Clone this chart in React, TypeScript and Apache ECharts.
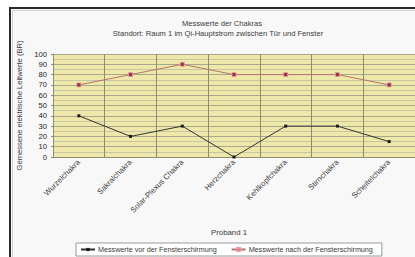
import React, { useEffect, useRef } from "react";
import * as echarts from "echarts";

const categories = [
  "Wurzelchakra",
  "Sakralchakra",
  "Solar-Plexus Chakra",
  "Herzchakra",
  "Kehlkopfchakra",
  "Stirnchakra",
  "Scheitelchakra",
];
const vorValues = [40, 20, 30, 0, 30, 30, 15];
const nachValues = [70, 80, 90, 80, 80, 80, 70];
const seriesNames = [
  "Messwerte vor der Fensterschirmung",
  "Messwerte nach der Fensterschirmung",
];
const titleLines = [
  "Messwerte der Chakras",
  "Standort: Raum 1 im Qi-Hauptstrom zwischen Tür und Fenster",
];
const yAxisTitle = "Gemessene elektrische Leitwerte (BR)";
const xAxisTitle = "Proband 1";

const FONT = "Liberation Sans, Arial, sans-serif";
const TXT = "#3a3a3a";

export default function App() {
  const ref = useRef<HTMLDivElement>(null);
  useEffect(() => {
    if (!ref.current) return;
    const chart = echarts.init(ref.current, undefined, { renderer: "svg" });
    chart.setOption({
      animation: false,
      backgroundColor: "#ffffff",
      textStyle: { fontFamily: FONT },
      graphic: [
        {
          type: "rect",
          z: -10,
          shape: { x: 10, y: 8, width: 420, height: 260 },
          style: { fill: "#f8f8f8", stroke: "none" },
        },
        {
          type: "rect",
          z: -9,
          shape: { x: 12.5, y: 10.5, width: 420, height: 260 },
          style: { fill: "none", stroke: "#d0d0d0", lineWidth: 1 },
        },
        {
          type: "line",
          shape: { x1: 9, y1: 8, x2: 415, y2: 8 },
          style: { stroke: "#2a2a2a", lineWidth: 2 },
        },
        {
          type: "line",
          shape: { x1: 10, y1: 7, x2: 10, y2: 257 },
          style: { stroke: "#2a2a2a", lineWidth: 2 },
        },
        {
          type: "text",
          x: 222,
          y: 23,
          style: {
            text: titleLines[0],
            fontSize: 7.6,
            fontFamily: FONT,
            fill: TXT,
            align: "center",
            verticalAlign: "middle",
          },
        },
        {
          type: "text",
          x: 218,
          y: 33,
          style: {
            text: titleLines[1],
            fontSize: 7.6,
            fontFamily: FONT,
            fill: TXT,
            align: "center",
            verticalAlign: "middle",
          },
        },
        {
          type: "text",
          x: 229,
          y: 232,
          style: {
            text: xAxisTitle,
            fontSize: 7.8,
            fontFamily: FONT,
            fill: TXT,
            align: "center",
            verticalAlign: "middle",
          },
        },
      ],
      grid: {
        left: 53,
        top: 54,
        width: 364,
        height: 103,
        show: true,
        backgroundColor: "#eee9ab",
        borderWidth: 0,
      },
      legend: {
        left: 76,
        top: 243,
        padding: [3, 9, 3, 4],
        itemGap: 14,
        itemWidth: 14,
        itemHeight: 4,
        backgroundColor: "#ffffff",
        borderColor: "#9a9a9a",
        borderWidth: 1,
        borderRadius: 0,
        textStyle: { fontSize: 7.2, color: TXT, fontFamily: FONT, padding: [0, 0, 0, -2] },
        data: seriesNames,
      },
      xAxis: {
        type: "category",
        data: categories,
        boundaryGap: true,
        axisLine: { show: true, lineStyle: { color: "#8c8c70", width: 1 } },
        axisTick: { show: false },
        splitLine: { show: true, lineStyle: { color: "#8c8c70", width: 1 } },
        axisLabel: {
          rotate: 45,
          fontSize: 7.8,
          color: TXT,
          margin: 4,
          interval: 0,
          fontFamily: FONT,
        },
      },
      yAxis: {
        type: "value",
        min: 0,
        max: 100,
        interval: 10,
        name: yAxisTitle,
        nameLocation: "middle",
        nameGap: 29,
        nameTextStyle: { fontSize: 7.6, color: TXT, fontFamily: FONT },
        axisLine: { show: true, lineStyle: { color: "#8c8c70" } },
        axisTick: { show: true, length: 2, lineStyle: { color: "#8c8c70" } },
        axisLabel: { fontSize: 7.6, color: "#222", margin: 6, fontFamily: FONT },
        splitLine: { show: true, lineStyle: { color: "#a9a88a", width: 1 } },
        minorTick: { show: false, splitNumber: 2 },
        minorSplitLine: { show: true, lineStyle: { color: "#c9c6a0", width: 1 } },
      },
      series: [
        {
          name: seriesNames[0],
          type: "line",
          data: vorValues,
          symbol: "rect",
          symbolSize: 3,
          itemStyle: { color: "#1a1a1a" },
          lineStyle: { color: "#333333", width: 1 },
        },
        {
          name: seriesNames[1],
          type: "line",
          data: nachValues,
          symbol: "rect",
          symbolSize: 4,
          itemStyle: { color: "#9a2e3c", borderColor: "#e6a0a8", borderWidth: 0.8 },
          lineStyle: { color: "#b5736f", width: 1 },
        },
      ],
    });
    return () => chart.dispose();
  }, []);
  return (
    <div
      style={{
        position: "fixed",
        left: 0,
        top: 0,
        width: 415,
        height: 257,
        overflow: "hidden",
        background: "#fff",
      }}
    >
      <div ref={ref} style={{ width: 415, height: 257 }} />
    </div>
  );
}
